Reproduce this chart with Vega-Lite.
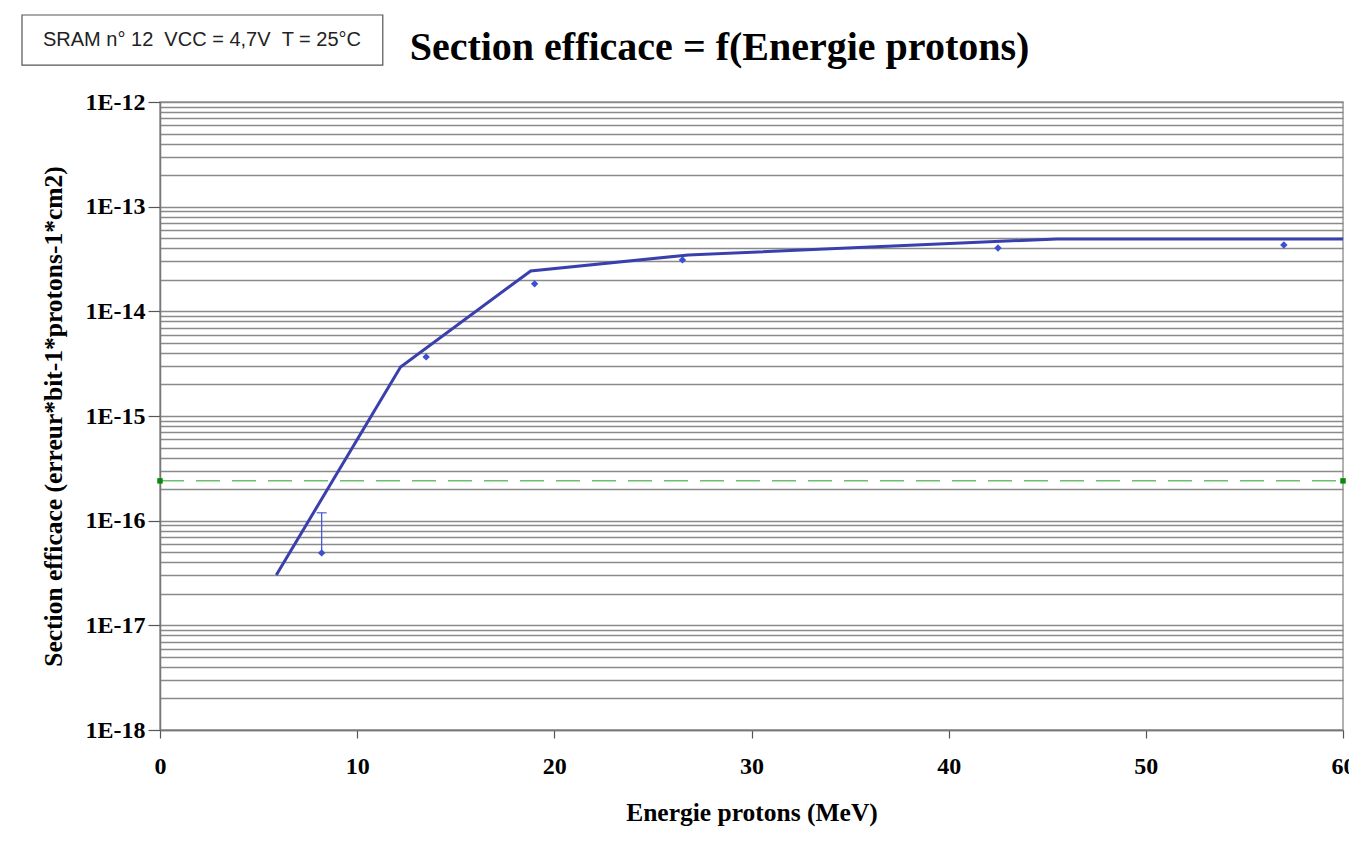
{
  "$schema": "https://vega.github.io/schema/vega-lite/v6.json",
  "autosize": {"type": "none"},
  "padding": {"left": 160, "top": 102, "right": 6, "bottom": 111},
  "width": 1183,
  "height": 628,
  "background": "white",
  "title": {
    "text": "Section efficace = f(Energie protons)",
    "font": "Liberation Serif",
    "fontSize": 40,
    "fontWeight": "bold",
    "color": "black",
    "anchor": "middle",
    "dx": -32,
    "offset": -54
  },
  "config": {
    "view": {"stroke": "#999999", "strokeWidth": 1.5},
    "axis": {
      "labelFont": "Liberation Serif",
      "labelFontWeight": "bold",
      "labelFontSize": 24,
      "labelColor": "black",
      "titleFont": "Liberation Serif",
      "titleFontWeight": "bold",
      "titleFontSize": 25.5,
      "titleColor": "black",
      "domainColor": "#777777",
      "domainWidth": 1.5,
      "tickColor": "#555555",
      "tickWidth": 1.2
    }
  },
  "datasets": {
    "fit": [
      {"energie": 5.9, "section": 3.03e-17},
      {"energie": 12.2, "section": 2.94e-15},
      {"energie": 18.8, "section": 2.43e-14},
      {"energie": 26.8, "section": 3.46e-14},
      {"energie": 45.5, "section": 4.92e-14},
      {"energie": 60, "section": 4.92e-14}
    ],
    "mesure": [
      {"energie": 8.2, "section": 4.92e-17},
      {"energie": 13.5, "section": 3.67e-15},
      {"energie": 19.0, "section": 1.83e-14},
      {"energie": 26.5, "section": 3.1e-14},
      {"energie": 42.5, "section": 4.03e-14},
      {"energie": 57.0, "section": 4.31e-14}
    ],
    "erreur": [
      {"energie": 8.2, "bas": 4.92e-17, "haut": 1.19e-16}
    ],
    "seuil": [
      {"energie": 0, "section": 2.4e-16},
      {"energie": 60, "section": 2.4e-16}
    ],
    "note": [
      {"texte": "SRAM n° 12\u00a0\u00a0VCC = 4,7V\u00a0\u00a0T = 25°C", "x": 2.13, "x1": -7.0, "x2": 11.3, "y": 3.91e-12, "y1": 2.25e-12, "y2": 6.78e-12}
    ]
  },
  "encoding": {
    "x": {
      "field": "energie",
      "type": "quantitative",
      "scale": {"domain": [0, 60], "nice": false, "zero": false},
      "axis": {
        "title": "Energie protons (MeV)",
        "values": [0, 10, 20, 30, 40, 50, 60],
        "grid": false,
        "tickSize": 8,
        "labelFlush": false,
        "labelPadding": 16,
        "titlePadding": 22
      }
    },
    "y": {
      "field": "section",
      "type": "quantitative",
      "scale": {"type": "log", "domain": [1e-18, 1e-12], "nice": false},
      "axis": {
        "title": "Section efficace (erreur*bit-1*protons-1*cm2)",
        "values": [1e-18, 2e-18, 3e-18, 4e-18, 5e-18, 6e-18, 7e-18, 8e-18, 9e-18,
                   1e-17, 2e-17, 3e-17, 4e-17, 5e-17, 6e-17, 7e-17, 8e-17, 9e-17,
                   1e-16, 2e-16, 3e-16, 4e-16, 5e-16, 6e-16, 7e-16, 8e-16, 9e-16,
                   1e-15, 2e-15, 3e-15, 4e-15, 5e-15, 6e-15, 7e-15, 8e-15, 9e-15,
                   1e-14, 2e-14, 3e-14, 4e-14, 5e-14, 6e-14, 7e-14, 8e-14, 9e-14,
                   1e-13, 2e-13, 3e-13, 4e-13, 5e-13, 6e-13, 7e-13, 8e-13, 9e-13,
                   1e-12],
        "grid": true,
        "gridColor": "#8a8a8a",
        "gridWidth": 1.5,
        "tickSize": 12,
        "tickOpacity": {
          "condition": {"test": "abs(log(datum.value)/LN10 - round(log(datum.value)/LN10)) < 0.001", "value": 1},
          "value": 0
        },
        "labelExpr": "abs(log(datum.value)/LN10 - round(log(datum.value)/LN10)) < 0.001 ? '1E' + round(log(datum.value)/LN10) : ''",
        "labelPadding": 3,
        "titlePadding": 19
      }
    }
  },
  "layer": [
    {
      "data": {"name": "note"},
      "mark": {"type": "rect", "fill": "white", "stroke": "#555555", "strokeWidth": 1.2},
      "encoding": {
        "x": {"field": "x1", "type": "quantitative"},
        "x2": {"field": "x2"},
        "y": {"field": "y1", "type": "quantitative"},
        "y2": {"field": "y2"}
      }
    },
    {
      "data": {"name": "note"},
      "mark": {"type": "text", "font": "Liberation Sans", "fontSize": 20, "color": "#222222", "align": "center", "baseline": "middle"},
      "encoding": {
        "x": {"field": "x", "type": "quantitative"},
        "y": {"field": "y", "type": "quantitative"},
        "text": {"field": "texte"}
      }
    },
    {
      "data": {"name": "seuil"},
      "mark": {"type": "line", "color": "#6cbf6c", "strokeWidth": 1.5, "strokeDash": [24, 12]},
      "encoding": {}
    },
    {
      "data": {"name": "seuil"},
      "mark": {"type": "point", "shape": "square", "filled": true, "color": "#0a8a0a", "size": 30, "opacity": 1},
      "encoding": {}
    },
    {
      "data": {"name": "fit"},
      "mark": {"type": "line", "color": "#3a3fae", "strokeWidth": 3},
      "encoding": {}
    },
    {
      "data": {"name": "erreur"},
      "mark": {"type": "rule", "color": "#3b4fd0", "strokeWidth": 1.2},
      "encoding": {
        "y": {"field": "bas", "type": "quantitative"},
        "y2": {"field": "haut"}
      }
    },
    {
      "data": {"name": "erreur"},
      "mark": {"type": "tick", "orient": "horizontal", "color": "#3b4fd0", "size": 10, "thickness": 1.5},
      "encoding": {
        "y": {"field": "haut", "type": "quantitative"}
      }
    },
    {
      "data": {"name": "mesure"},
      "mark": {"type": "point", "shape": "diamond", "filled": true, "color": "#3b4fd0", "size": 55, "opacity": 1},
      "encoding": {}
    }
  ]
}
